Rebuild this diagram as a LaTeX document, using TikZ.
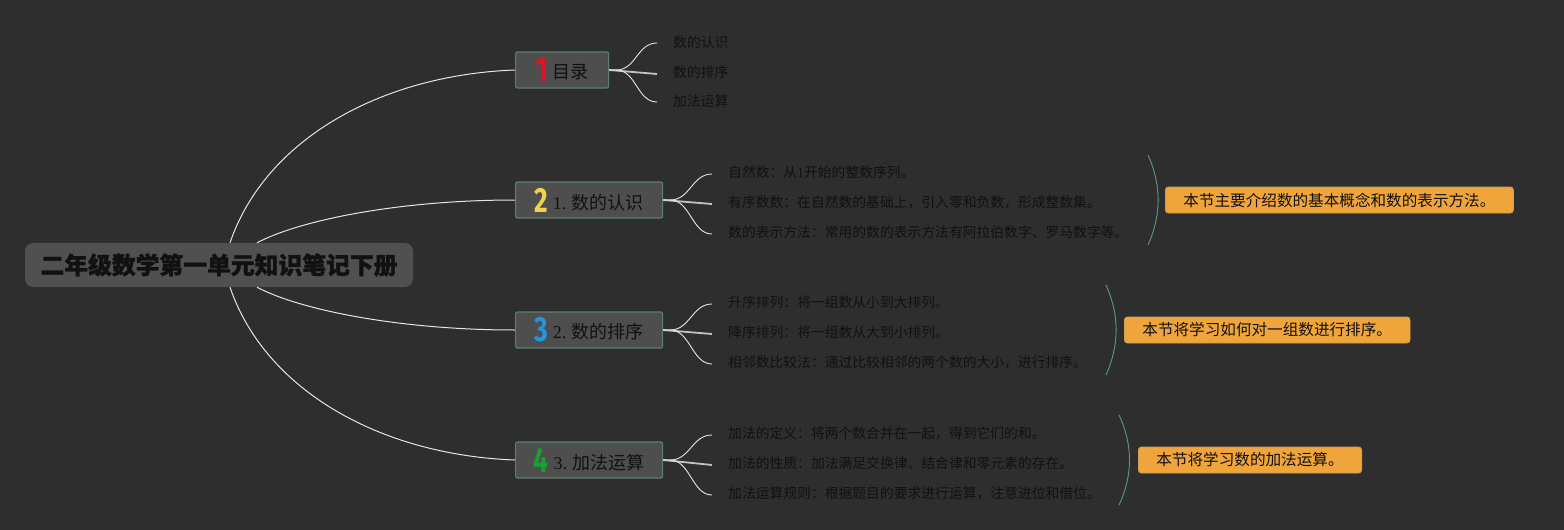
\documentclass[tikz,border=0pt]{standalone}
\usepackage{fontspec}
\usepackage{graphicx}
\setmainfont{Liberation Serif}
\newfontfamily\cjk{Noto Sans CJK SC}
\newfontfamily\cjkbold{Noto Sans CJK SC}[BoldFeatures={FakeBold=1.2}]
\newfontfamily\numf{Fira Sans}
\definecolor{bgc}{HTML}{2E2E2E}
\definecolor{rootc}{HTML}{505050}
\definecolor{boxc}{HTML}{4E4E4E}
\definecolor{boxborder}{HTML}{5B7F72}
\definecolor{orangec}{HTML}{F0A53C}
\definecolor{orangeb}{HTML}{C9A352}
\definecolor{bracec}{HTML}{5A9A8C}
\definecolor{linec}{HTML}{E6E6E6}
\definecolor{txt}{HTML}{111111}
\definecolor{n1}{HTML}{D9142B}
\definecolor{n2}{HTML}{F2D34D}
\definecolor{n3}{HTML}{2196E0}
\definecolor{n4}{HTML}{19A030}
\newcommand\bignum[2]{{\numf\bfseries\fontsize{35}{35}\selectfont\color{#1}\raisebox{-3pt}{\scalebox{0.75}[1]{#2}}}\hspace{5pt}}
\tikzset{
  rootbox/.style={fill=rootc, rounded corners=8pt, minimum width=388pt, minimum height=44pt,
    inner sep=0pt, text=txt, font=\cjkbold\bfseries\fontsize{23.8}{28}\selectfont},
  branchbox/.style={fill=boxc, draw=boxborder, line width=1.2pt, rounded corners=2pt,
    minimum height=36pt, inner sep=0pt, anchor=west, text=txt, font=\cjk\fontsize{18}{20}\selectfont},
  leaf/.style={anchor=west, inner sep=0pt, text=txt, font=\cjk\fontsize{13.8}{16}\selectfont},
  notebox/.style={anchor=west, fill=orangec, draw=orangeb, line width=0.8pt, rounded corners=3pt,
    minimum height=26pt, inner xsep=18pt, inner ysep=0pt, text=txt, font=\cjk\fontsize{15.6}{18}\selectfont},
  mainline/.style={draw=linec, line width=1pt},
  fork/.style={draw=linec, line width=0.9pt},
  forkmid/.style={draw=linec!85!black, line width=1.8pt},
  bracel/.style={draw=bracec, line width=0.9pt}
}
\begin{document}
\begin{tikzpicture}[x=1pt,y=-1pt]
\fill[bgc] (0,0) rectangle (1564,530);
\useasboundingbox (0,0) rectangle (1564,530);

% root
\node[rootbox] (root) at (219,265) {二年级数学第一单元知识笔记下册};

% branches
\node[branchbox, minimum width=93pt] (b1) at (515,70) {\bignum{n1}{1}目录};
\node[branchbox, minimum width=147pt] (b2) at (515,200) {\bignum{n2}{2}{\rmfamily 1.} 数的认识};
\node[branchbox, minimum width=147pt] (b3) at (515,330) {\bignum{n3}{3}{\rmfamily 2.} 数的排序};
\node[branchbox, minimum width=147pt] (b4) at (515,460) {\bignum{n4}{4}{\rmfamily 3.} 加法运算};

% main connectors
\draw[mainline] ([xshift=11pt]root.north) .. controls (265,140) and (380,75) .. (b1.west);
\draw[mainline] ([xshift=38pt]root.north) .. controls (300,220) and (400,200) .. (b2.west);
\draw[mainline] ([xshift=38pt]root.south) .. controls (300,310) and (400,330) .. (b3.west);
\draw[mainline] ([xshift=11pt]root.south) .. controls (265,390) and (380,455) .. (b4.west);

% leaves of branch 1
\node[leaf] (a1) at (673,42) {数的认识};
\node[leaf] (a2) at (673,72) {数的排序};
\node[leaf] (a3) at (673,101) {加法运算};

% leaves of branch 2
\node[leaf] (c1) at (728,172) {自然数：从{\rmfamily 1}开始的整数序列。};
\node[leaf] (c2) at (728,202) {有序数数：在自然数的基础上，引入零和负数，形成整数集。};
\node[leaf] (c3) at (728,232) {数的表示方法：常用的数的表示方法有阿拉伯数字、罗马数字等。};

% leaves of branch 3
\node[leaf] (d1) at (728,302) {升序排列：将一组数从小到大排列。};
\node[leaf] (d2) at (728,332) {降序排列：将一组数从大到小排列。};
\node[leaf] (d3) at (728,362) {相邻数比较法：通过比较相邻的两个数的大小，进行排序。};

% leaves of branch 4
\node[leaf] (e1) at (728,433) {加法的定义：将两个数合并在一起，得到它们的和。};
\node[leaf] (e2) at (728,463) {加法的性质：加法满足交换律、结合律和零元素的存在。};
\node[leaf] (e3) at (728,493) {加法运算规则：根据题目的要求进行运算，注意进位和借位。};

% forks
\draw[fork] (b1.east) -- ([xshift=7pt]b1.east) .. controls ([xshift=27pt]b1.east) and ([shift={(-36pt,-1pt)}]a1.west) .. ([shift={(-16pt,-1pt)}]a1.west);
\draw[forkmid] (b1.east) -- ([shift={(-16pt,-2pt)}]a2.west);
\draw[fork] (b1.east) -- ([xshift=7pt]b1.east) .. controls ([xshift=27pt]b1.east) and ([shift={(-36pt,-1pt)}]a3.west) .. ([shift={(-16pt,-1pt)}]a3.west);

\draw[fork] (b2.east) -- ([xshift=7pt]b2.east) .. controls ([xshift=27pt]b2.east) and ([shift={(-36pt,-2pt)}]c1.west) .. ([shift={(-16pt,-2pt)}]c1.west);
\draw[forkmid] (b2.east) -- ([shift={(-16pt,-2pt)}]c2.west);
\draw[fork] (b2.east) -- ([xshift=7pt]b2.east) .. controls ([xshift=27pt]b2.east) and ([shift={(-36pt,-2pt)}]c3.west) .. ([shift={(-16pt,-2pt)}]c3.west);

\draw[fork] (b3.east) -- ([xshift=7pt]b3.east) .. controls ([xshift=27pt]b3.east) and ([shift={(-36pt,-2pt)}]d1.west) .. ([shift={(-16pt,-2pt)}]d1.west);
\draw[forkmid] (b3.east) -- ([shift={(-16pt,-2pt)}]d2.west);
\draw[fork] (b3.east) -- ([xshift=7pt]b3.east) .. controls ([xshift=27pt]b3.east) and ([shift={(-36pt,-2pt)}]d3.west) .. ([shift={(-16pt,-2pt)}]d3.west);

\draw[fork] (b4.east) -- ([xshift=7pt]b4.east) .. controls ([xshift=27pt]b4.east) and ([shift={(-36pt,-2pt)}]e1.west) .. ([shift={(-16pt,-2pt)}]e1.west);
\draw[forkmid] (b4.east) -- ([shift={(-16pt,-2pt)}]e2.west);
\draw[fork] (b4.east) -- ([xshift=7pt]b4.east) .. controls ([xshift=27pt]b4.east) and ([shift={(-36pt,-2pt)}]e3.west) .. ([shift={(-16pt,-2pt)}]e3.west);

% braces
\coordinate (t2) at (1148,155); \coordinate (u2) at (1148,245);
\coordinate (t3) at (1106,285); \coordinate (u3) at (1106,375);
\coordinate (t4) at (1119,415); \coordinate (u4) at (1119,505);
\draw[bracel] (t2) .. controls (1161.5,185) and (1161.5,215) .. (u2);
\draw[bracel] (t3) .. controls (1119.5,315) and (1119.5,345) .. (u3);
\draw[bracel] (t4) .. controls (1133,445) and (1133,475) .. (u4);

% summary notes
\node[notebox] (s2) at (1165,200) {本节主要介绍数的基本概念和数的表示方法。};
\node[notebox] (s3) at (1124,330) {本节将学习如何对一组数进行排序。};
\node[notebox] (s4) at (1138,460) {本节将学习数的加法运算。};
\end{tikzpicture}
\end{document}
